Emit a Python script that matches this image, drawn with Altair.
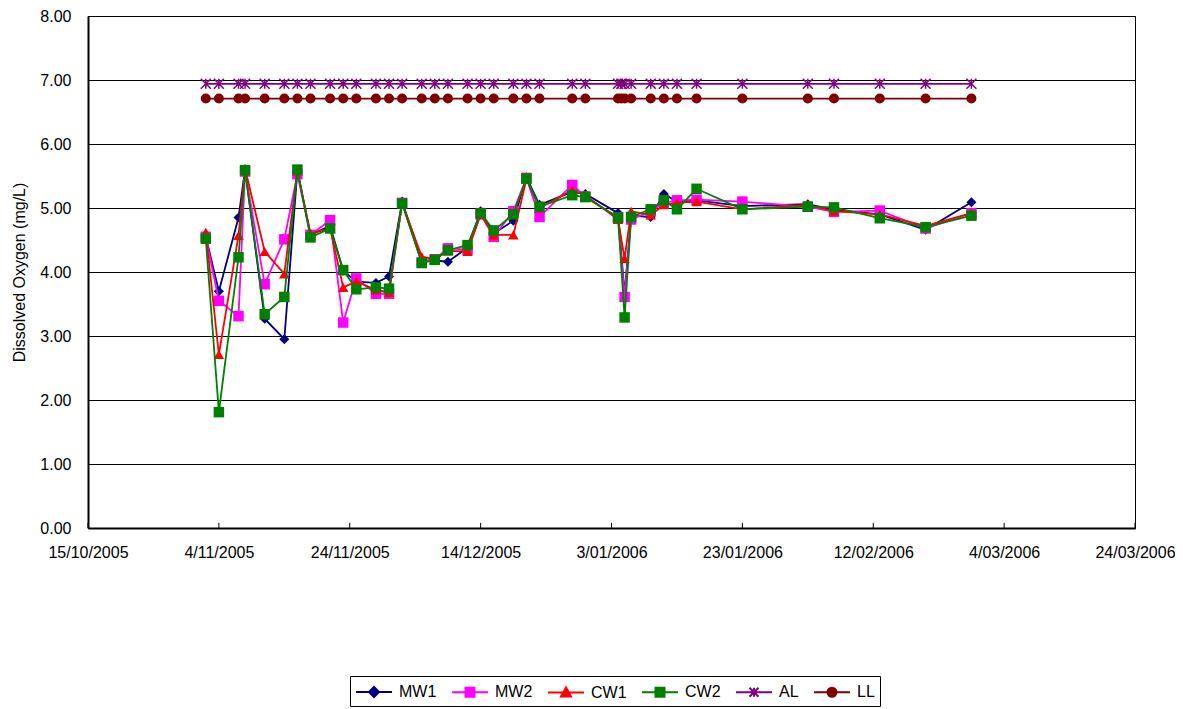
import altair as alt
import pandas as pd

# ---------------- data ----------------
dates = [
    "2005-11-02", "2005-11-04", "2005-11-07", "2005-11-08", "2005-11-11", "2005-11-14",
    "2005-11-16", "2005-11-18", "2005-11-21", "2005-11-23", "2005-11-25", "2005-11-28",
    "2005-11-30", "2005-12-02", "2005-12-05", "2005-12-07", "2005-12-09", "2005-12-12",
    "2005-12-14", "2005-12-16", "2005-12-19", "2005-12-21", "2005-12-23", "2005-12-28",
    "2005-12-30", "2006-01-04", "2006-01-05", "2006-01-06", "2006-01-09", "2006-01-11",
    "2006-01-13", "2006-01-16", "2006-01-23", "2006-02-02", "2006-02-06", "2006-02-13",
    "2006-02-20", "2006-02-27",
]
mw1 = [4.55, 3.70, 4.85, 5.60, 3.27, 2.95, 5.58, 4.58, 4.72, 4.02, 3.85, 3.83, 3.93,
       5.10, 4.18, 4.18, 4.16, 4.38, 4.95, 4.60, 4.80, 5.48, 5.05, 5.25, 5.22, 4.92,
       3.65, 4.88, 4.86, 5.22, 5.10, 5.12, 5.03, 5.06, 4.97, 4.90, 4.66, 5.09]
mw2 = [4.55, 3.55, 3.31, 5.57, 3.81, 4.51, 5.53, 4.58, 4.81, 3.21, 3.90, 3.66, 3.66,
       5.08, 4.15, 4.20, 4.37, 4.35, 4.90, 4.55, 4.95, 5.47, 4.86, 5.36, 5.18, 4.85,
       3.61, 4.82, 4.95, 5.08, 5.12, 5.13, 5.10, 5.02, 4.94, 4.96, 4.68, 4.92]
cw1 = [4.62, 2.71, 4.57, 5.62, 4.32, 3.97, 5.58, 4.60, 4.68, 3.76, 3.85, 3.72, 3.68,
       5.08, 4.24, 4.20, 4.33, 4.32, 4.90, 4.58, 4.58, 5.45, 5.00, 5.28, 5.20, 4.82,
       4.21, 4.95, 4.89, 5.05, 5.08, 5.10, 4.98, 5.05, 4.95, 4.90, 4.72, 4.92]
cw2 = [4.52, 1.81, 4.23, 5.59, 3.34, 3.61, 5.60, 4.54, 4.68, 4.03, 3.73, 3.76, 3.74,
       5.07, 4.14, 4.19, 4.34, 4.42, 4.92, 4.65, 4.90, 5.46, 5.02, 5.20, 5.17, 4.85,
       3.29, 4.86, 4.98, 5.12, 4.98, 5.30, 4.98, 5.02, 5.01, 4.84, 4.70, 4.88]
limit_dates = sorted(dates + ["2006-01-04T12:00:00"])
al_value = 6.94
ll_value = 6.71

series_names = ["MW1", "MW2", "CW1", "CW2", "AL", "LL"]
x_tick_dates = ["2005-10-15", "2005-11-04", "2005-11-24", "2005-12-14", "2006-01-03",
                "2006-01-23", "2006-02-12", "2006-03-04", "2006-03-24"]
y_ticks = [0, 1, 2, 3, 4, 5, 6, 7, 8]
y_title = "Dissolved Oxygen (mg/L)"

# ---------------- styles ----------------
colors = ["#000080", "#FF00FF", "#FF0000", "#008000", "#800080", "#800000"]
ASTER = "M0,-1L0,1M-1,-1L1,1M-1,1L1,-1"
shapes = ["diamond", "square", "triangle-up", "square", ASTER, "circle"]
sizes = [100, 110, 110, 110, 100, 100]
FONT = "Liberation Sans"

LINE = "M-1.8,0L1.8,0"
legend_paths = [
    LINE + "M-0.5,0L0,-0.5L0.5,0L0,0.5Z",
    LINE + "M-0.45,-0.45L0.45,-0.45L0.45,0.45L-0.45,0.45Z",
    LINE + "M0,-0.5L0.5,0.4L-0.5,0.4Z",
    LINE + "M-0.45,-0.45L0.45,-0.45L0.45,0.45L-0.45,0.45Z",
    LINE + "M0,-0.45L0,0.45M-0.45,-0.45L0.45,0.45M-0.45,0.45L0.45,-0.45",
    LINE + "M0.45,0A0.45,0.45,0,1,1,-0.45,0A0.45,0.45,0,1,1,0.45,0Z",
]


def ts(d):
    return d if "T" in d else d + "T00:00:00"


rows = []
for name, vals in zip(["MW1", "MW2", "CW1", "CW2"], [mw1, mw2, cw1, cw2]):
    for d, v in zip(dates, vals):
        rows.append({"date": ts(d), "value": v, "series": name})
for d in limit_dates:
    rows.append({"date": ts(d), "value": al_value, "series": "AL"})
    rows.append({"date": ts(d), "value": ll_value, "series": "LL"})
df = pd.DataFrame(rows)
ticks_df = pd.DataFrame({"date": [ts(d) for d in x_tick_dates]})


def dt(s):
    y, m, d = s.split("-")
    return alt.DateTime(year=int(y), month=int(m), date=int(d))


x_enc = alt.X(
    "date:T",
    scale=alt.Scale(domain=[dt(x_tick_dates[0]), dt(x_tick_dates[-1])]),
    axis=alt.Axis(values=[dt(d) for d in x_tick_dates], format="%-d/%m/%Y", title=None,
                  grid=False, ticks=False, labelPadding=16, labelFlush=False,
                  labelOverlap=False),
)
y_enc = alt.Y(
    "value:Q",
    scale=alt.Scale(domain=[0, 8], nice=False),
    axis=alt.Axis(values=y_ticks, format=".2f", title=y_title, grid=True, ticks=False,
                  labelPadding=17, titlePadding=12),
)

base = alt.Chart(df)
layers = []
for name, color, shape, size in zip(series_names, colors, shapes, sizes):
    sub = base.transform_filter(alt.datum.series == name)
    layers.append(sub.mark_line(color=color, strokeWidth=1.8).encode(x=x_enc, y=y_enc))
    if name == "AL":
        pts = sub.mark_point(shape=shape, filled=False, color=color, size=size,
                             strokeWidth=1.5, opacity=1)
    else:
        pts = sub.mark_point(shape=shape, filled=True, color=color, size=size, opacity=1)
    layers.append(pts.encode(x=x_enc, y=y_enc))

leg = alt.Legend(
    title=None, orient="none", legendX=262, legendY=660, direction="horizontal",
    symbolSize=400, symbolOffset=8, labelOffset=14, columnPadding=11, padding=5,
    strokeColor="black", fillColor="white", symbolStrokeWidth=2, symbolOpacity=1,
    labelFontSize=16, labelFont=FONT, labelColor="black",
)
legend_layer = base.mark_point(opacity=0, size=400).encode(
    x=x_enc, y=y_enc,
    fill=alt.Fill("series:N", scale=alt.Scale(domain=series_names, range=colors), legend=leg),
    stroke=alt.Stroke("series:N", scale=alt.Scale(domain=series_names, range=colors), legend=leg),
    shape=alt.Shape("series:N", scale=alt.Scale(domain=series_names, range=legend_paths), legend=leg),
)

tick_layer = alt.Chart(ticks_df).mark_rule(color="black", strokeWidth=1).encode(
    x=alt.X("date:T"), y=alt.datum(0), y2=alt.datum(0.08)
)

chart = alt.layer(*layers, legend_layer, tick_layer).properties(
    width=1047, height=512,
    background="white",
    autosize=alt.AutoSizeParams(type="none"),
    padding={"left": 80, "top": 8, "right": 40, "bottom": 180},
).configure_view(
    stroke="black", strokeWidth=1
).configure_axis(
    labelFont=FONT, titleFont=FONT, labelFontSize=16, titleFontSize=16,
    labelColor="black", titleColor="black", titleFontWeight="normal",
    domainColor="black", domainWidth=2, gridColor="black", gridWidth=1, gridOpacity=1,
)

chart.save("out.html", embed_options={"renderer": "svg", "actions": False})
